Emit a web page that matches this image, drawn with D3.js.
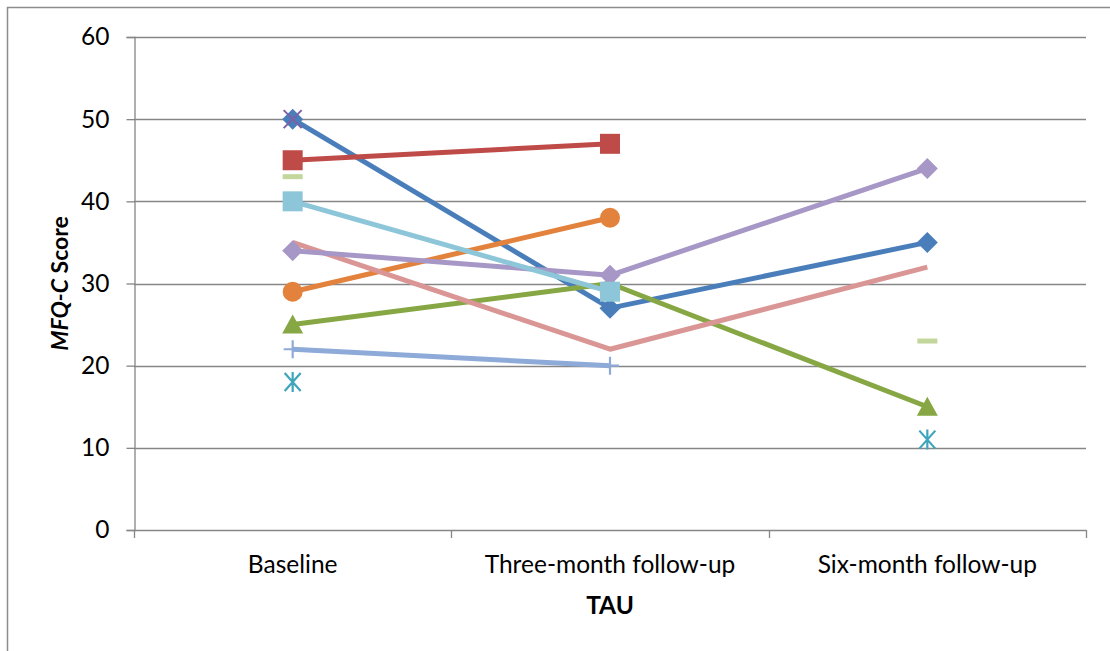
<!DOCTYPE html>
<html><head><meta charset="utf-8">
<script src="https://cdn.jsdelivr.net/npm/d3@7"></script>
<style>body{margin:0;background:#fff}svg{display:block}text{font-family:Lato,"Open Sans",sans-serif}</style>
</head><body><svg id="c" width="1110" height="651"></svg>
<script>
const categories = ["Baseline", "Three-month follow-up", "Six-month follow-up"];
const yTicks = [0, 10, 20, 30, 40, 50, 60];
const sBlue = [50, 27, 35];
const sRed = [45, 47, null];
const sGreenDash = [43, null, 23];
const sPurpleX = [50, null, null];
const sTeal = [18, null, 11];
const sOrange = [29, 38, null];
const sSteel = [22, 20, null];
const sGreen = [25, 30, 15];
const sPink = [35, 22, 32];
const sLavender = [34, 31, 44];
const sLightBlue = [40, 29, null];

const series = [
  {v: sBlue, c: "#4a7ebb", m: "diamond", line: true},
  {v: sRed, c: "#be4b48", m: "square", line: true},
  {v: sGreenDash, c: "#c3d69b", m: "dash", line: false},
  {v: sPurpleX, c: "#7f5fa6", m: "x", line: false},
  {v: sTeal, c: "#3fa5bd", m: "star", line: false},
  {v: sOrange, c: "#e2823c", m: "circle", line: true},
  {v: sSteel, c: "#8eaad8", m: "plus", line: true},
  {v: sGreen, c: "#87a744", m: "triangle", line: true},
  {v: sPink, c: "#d99694", m: "none", line: true},
  {v: sLavender, c: "#a797c6", m: "diamond", line: true},
  {v: sLightBlue, c: "#8dc6d8", m: "square", line: true}
];

const svg = d3.select("#c");
const L = 134, R = 1086, T = 37, B = 530;
const FS = 24.5;
const x = d3.scaleBand().domain(categories).range([L, R]).padding(0);
const cx = c => x(c) + x.bandwidth() / 2;
const y = d3.scaleLinear().domain([0, 60]).range([B, T]);

// outer border
svg.append("path").attr("d", "M7.5,651 L7.5,7.5 L1110,7.5").attr("fill", "none").attr("stroke", "#8c8c8c").attr("stroke-width", 1.5);

// gridlines
svg.append("g").selectAll("line").data(yTicks.filter(d => d > 0)).join("line")
  .attr("x1", L).attr("x2", R).attr("y1", d => Math.round(y(d)) + 0.5).attr("y2", d => Math.round(y(d)) + 0.5)
  .attr("stroke", "#868686").attr("stroke-width", 1.3);

// y axis
const ya = svg.append("g").attr("transform", `translate(${L + 0.5},0)`)
  .call(d3.axisLeft(y).tickValues(yTicks).tickSize(8).tickPadding(17));
ya.attr("font-family", null).attr("font-size", null);
ya.select(".domain").attr("stroke", "#868686").attr("stroke-width", 1.3);
ya.selectAll(".tick line").attr("stroke", "#868686").attr("stroke-width", 1.3);
ya.selectAll("text").attr("font-size", FS).attr("fill", "#000");

// x axis
const xa = svg.append("g").attr("transform", `translate(0,${Math.round(B) + 0.5})`)
  .call(d3.axisBottom(x).tickSize(0).tickPadding(25));
xa.attr("font-family", null).attr("font-size", null);
xa.select(".domain").attr("stroke", "#868686").attr("stroke-width", 1.3).attr("d", `M${L},0H${R}`);
xa.selectAll("text").attr("font-size", FS).attr("fill", "#000").attr("dy", "0.71em");
const bounds = categories.map(c => x(c)).concat([R]);
svg.append("g").selectAll("line").data(bounds).join("line")
  .attr("x1", d => Math.round(d) + 0.5).attr("x2", d => Math.round(d) + 0.5)
  .attr("y1", B).attr("y2", B + 8).attr("stroke", "#868686").attr("stroke-width", 1.3);

// titles
svg.append("text").attr("x", cx(categories[1])).attr("y", 614).attr("text-anchor", "middle")
  .attr("font-size", FS).attr("font-weight", "bold").text("TAU");
const yt = svg.append("text").attr("transform", `translate(68,${(T + B) / 2}) rotate(-90)`)
  .attr("text-anchor", "middle").attr("font-size", 23).attr("font-weight", "bold");
yt.append("tspan").attr("font-style", "italic").text("MFQ-C");
yt.append("tspan").text(" Score");

// series
const g = svg.append("g");
const lineGen = d3.line().defined(d => d.v != null).x(d => cx(d.c)).y(d => y(d.v));
series.forEach(s => {
  const pts = categories.map((c, i) => ({c, v: s.v[i]}));
  if (s.line) {
    g.append("path").datum(pts).attr("d", lineGen).attr("fill", "none")
      .attr("stroke", s.c).attr("stroke-width", 5).attr("stroke-linejoin", "round");
  }
  pts.filter(p => p.v != null).forEach(p => {
    const px = cx(p.c), py = y(p.v);
    const mk = g.append("g").attr("transform", `translate(${px},${py})`);
    if (s.m === "diamond") mk.append("path").attr("d", "M0,-10.5L10.5,0L0,10.5L-10.5,0Z").attr("fill", s.c);
    else if (s.m === "square") mk.append("rect").attr("x", -10).attr("y", -10).attr("width", 20).attr("height", 20).attr("fill", s.c);
    else if (s.m === "circle") mk.append("circle").attr("r", 10).attr("fill", s.c);
    else if (s.m === "triangle") mk.append("path").attr("d", "M0,-10L10.5,9L-10.5,9Z").attr("fill", s.c);
    else if (s.m === "dash") mk.append("rect").attr("x", -10).attr("y", -2.5).attr("width", 20).attr("height", 5).attr("fill", s.c);
    else if (s.m === "x") mk.append("path").attr("d", "M-9,-9L9,9M9,-9L-9,9").attr("stroke", s.c).attr("stroke-width", 2);
    else if (s.m === "star") mk.append("path").attr("d", "M-8,-9L8,9M8,-9L-8,9M0,-10V10").attr("stroke", s.c).attr("stroke-width", 2.2);
    else if (s.m === "plus") mk.append("path").attr("d", "M0,-9V9M-9,0H9").attr("stroke", s.c).attr("stroke-width", 2.2);
  });
});
</script></body></html>
